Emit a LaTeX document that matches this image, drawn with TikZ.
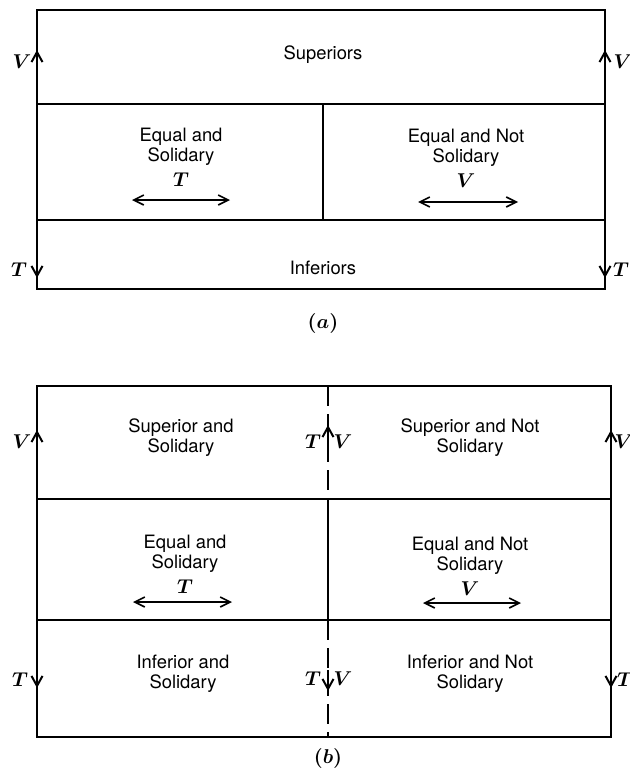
\documentclass[tikz,border=0pt]{standalone}
\usepackage{fontspec}
\setsansfont{TeX Gyre Heros}
\usepackage{bm}
\usetikzlibrary{arrows.meta,positioning}

\begin{document}
\begin{tikzpicture}[
    x=0.5pt,y=-0.5pt,
    frame/.style={line width=1.35pt},
    divider/.style={line width=1.35pt,dash pattern=on 10pt off 4pt},
    cell/.style={font=\sffamily\fontsize{9.2}{10}\selectfont,align=center,inner sep=0pt},
    sym/.style={font=\fontsize{10}{11}\selectfont,inner sep=0pt},
    tip/.style={line width=1.35pt,-{Straight Barb[length=5pt,width=5.5pt,line width=1pt]}},
    rel/.style={line width=0.8pt,{Straight Barb[length=5pt,width=5pt,line width=0.8pt]}-{Straight Barb[length=5pt,width=5pt,line width=0.8pt]}}
  ]
    \useasboundingbox (0,0) rectangle (629,776);

    % (a)
    \draw[frame] (37,10) rectangle (605,289);
    \draw[frame] (37,104) -- (605,104);
    \draw[frame] (37,220) -- (605,220);
    \draw[frame] (323,104) -- (323,220);

    \node[cell] (sup) at (323,55) {Superiors};
    \node[cell] (eqS) at (181,147) {Equal and\\Solidary};
    \node[sym,below=3pt of eqS] (eqT) {$\bm{T}$};
    \coordinate (eqL) at (132,200);
    \coordinate (eqR) at (230,200);
    \draw[rel] (eqL) -- (eqR);
    \node[cell] (eqN) at (466,148) {Equal and Not\\Solidary};
    \node[sym,below=3pt of eqN] (eqV) {$\bm{V}$};
    \coordinate (enL) at (418,202);
    \coordinate (enR) at (518,202);
    \draw[rel] (enL) -- (enR);
    \node[cell] (inf) at (323,268) {Inferiors};

    \node[sym] (aVl) at (22,62) {$\bm{V}$};
    \node[sym] (aVr) at (623,62) {$\bm{V}$};
    \node[sym] (aTl) at (19,270) {$\bm{T}$};
    \node[sym] (aTr) at (621,270) {$\bm{T}$};
    \draw[tip] (37,66) -- (37,50);
    \draw[tip] (605,66) -- (605,50);
    \draw[tip] (37,262) -- (37,278);
    \draw[tip] (605,262) -- (605,278);

    \node[font=\fontsize{10}{11}\selectfont] (capA) at (323,323) {$\bm{(a)}$};

    % (b)
    \draw[frame] (37,386) rectangle (611,737);
    \draw[frame] (37,499) -- (611,499);
    \draw[frame] (37,620) -- (611,620);
    \draw[divider] (328,386) -- (328,499);
    \draw[frame] (328,499) -- (328,620);
    \draw[divider] (328,620) -- (328,737);

    \node[cell] (supS) at (181,438) {Superior and\\Solidary};
    \node[cell] (supN) at (470,438) {Superior and Not\\Solidary};
    \node[cell] (eqSb) at (185,554) {Equal and\\Solidary};
    \node[sym,below=3pt of eqSb] (eqTb) {$\bm{T}$};
    \coordinate (ebL) at (133,602);
    \coordinate (ebR) at (232,602);
    \draw[rel] (ebL) -- (ebR);
    \node[cell] (eqNb) at (470,556) {Equal and Not\\Solidary};
    \node[sym,below=3pt of eqNb] (eqVb) {$\bm{V}$};
    \coordinate (nbL) at (423,603);
    \coordinate (nbR) at (521,603);
    \draw[rel] (nbL) -- (nbR);
    \node[cell] (infS) at (183,674) {Inferior and\\Solidary};
    \node[cell] (infN) at (470,674) {Inferior and Not\\Solidary};

    \node[sym] (bVl) at (22,442) {$\bm{V}$};
    \node[sym] (bVr) at (624,442) {$\bm{V}$};
    \node[sym] (bTl) at (20,680) {$\bm{T}$};
    \node[sym] (bTr) at (625,680) {$\bm{T}$};
    \node[sym] (bTu) at (313,442) {$\bm{T}$};
    \node[sym] (bVu) at (343,442) {$\bm{V}$};
    \node[sym] (bTd) at (313,679) {$\bm{T}$};
    \node[sym] (bVd) at (343,679) {$\bm{V}$};
    \draw[tip] (37,446) -- (37,430);
    \draw[tip] (611,446) -- (611,430);
    \draw[tip] (328,446) -- (328,425);
    \draw[tip] (37,672) -- (37,688);
    \draw[tip] (611,672) -- (611,688);
    \draw[tip] (328,670) -- (328,691);

    \node[font=\fontsize{10}{11}\selectfont] (capB) at (328,758) {$\bm{(b)}$};
  \end{tikzpicture}
\end{document}
